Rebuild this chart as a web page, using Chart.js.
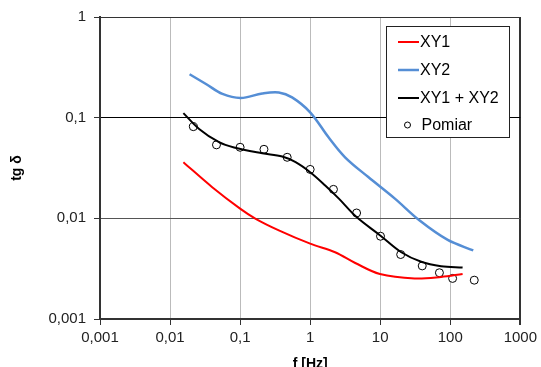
<!DOCTYPE html>
<html>
<head>
<meta charset="utf-8">
<script src="https://cdn.jsdelivr.net/npm/chart.js@4.4.0/dist/chart.umd.min.js"></script>
<style>
  html, body { margin: 0; padding: 0; background: #fff; }
  #wrap { width: 541px; height: 367px; }
</style>
</head>
<body>
<div id="wrap"><canvas id="c" width="541" height="367"></canvas></div>
<script>
// decade ticks
const xTicks = [0.001, 0.01, 0.1, 1, 10, 100, 1000]
const yTicks = [0.001, 0.01, 0.1, 1]

// XY1 (red)
const xy1X = [0.0155, 0.04, 0.1, 0.167, 0.357, 1.0, 2.27, 4.4, 9.9, 31, 74, 150]
const xy1Y = [0.0361, 0.0204, 0.0125, 0.0099, 0.0076, 0.0056, 0.0046, 0.0036, 0.0028, 0.00253, 0.00262, 0.0028]

// XY2 (blue)
const xy2X = [0.019, 0.033, 0.056, 0.102, 0.207, 0.357, 0.552, 1.0, 1.83, 3.15, 6.76, 16.2, 36.6, 92, 213]
const xy2Y = [0.27, 0.215, 0.172, 0.157, 0.174, 0.178, 0.159, 0.113, 0.0638, 0.0404, 0.0257, 0.0157, 0.0095, 0.0061, 0.0048]

// XY1 + XY2 (black)
const sumX = [0.0155, 0.026, 0.05, 0.082, 0.207, 0.4, 0.62, 1.0, 1.64, 2.57, 4.6, 9.9, 20, 38.5, 74, 150]
const sumY = [0.111, 0.0773, 0.057, 0.0505, 0.0443, 0.0411, 0.0361, 0.0287, 0.0212, 0.0157, 0.0103, 0.0068, 0.0046, 0.0037, 0.00335, 0.00325]

// Pomiar (measurement points)
const pomX = [0.0215, 0.046, 0.1, 0.219, 0.47, 1.0, 2.15, 4.6, 10.1, 19.6, 39.8, 70, 108, 220]
const pomY = [0.0814, 0.0537, 0.0508, 0.0485, 0.0404, 0.0306, 0.0194, 0.0113, 0.00664, 0.00437, 0.00337, 0.00288, 0.00253, 0.00243]

const pts = (xs, ys) => xs.map((x, i) => ({ x: x, y: ys[i] }))
const fmt = (v) => String(v).replace('.', ',')
const FONT = "Arial, 'Liberation Sans', sans-serif"

const line = (label, xs, ys, color, w) => ({
  label: label,
  data: pts(xs, ys),
  borderColor: color,
  backgroundColor: color,
  borderWidth: w,
  showLine: true,
  pointRadius: 0,
  tension: 0.35,
  fill: false
})

// legend drawn inside the plot, as in the original
const boxLegend = {
  id: 'boxLegend',
  afterDatasetsDraw(chart) {
    const ctx = chart.ctx
    const x0 = 386.5, y0 = 26.5, w = 123, h = 111
    ctx.save()
    ctx.fillStyle = '#fff'
    ctx.fillRect(x0, y0, w, h)
    ctx.strokeStyle = '#222'
    ctx.lineWidth = 1
    ctx.strokeRect(x0, y0, w, h)
    ctx.font = '16px ' + FONT
    ctx.textBaseline = 'middle'
    ctx.fillStyle = '#000'
    const rows = [42, 70, 98, 125]
    chart.data.datasets.forEach((ds, i) => {
      const y = rows[i]
      if (ds.showLine) {
        ctx.strokeStyle = ds.borderColor
        ctx.lineWidth = ds.borderWidth
        ctx.beginPath()
        ctx.moveTo(398, y)
        ctx.lineTo(419, y)
        ctx.stroke()
      } else {
        ctx.strokeStyle = '#000'
        ctx.lineWidth = 1
        ctx.beginPath()
        ctx.arc(407.5, y, 3, 0, Math.PI * 2)
        ctx.stroke()
      }
      ctx.fillText(ds.label, ds.showLine ? 420 : 421.5, y + 1)
    })
    ctx.restore()
  }
}

new Chart(document.getElementById('c'), {
  type: 'scatter',
  data: {
    datasets: [
      line('XY1', xy1X, xy1Y, '#ff0000', 2),
      line('XY2', xy2X, xy2Y, '#558ed5', 2.5),
      line('XY1 + XY2', sumX, sumY, '#000000', 2),
      {
        label: 'Pomiar',
        data: pts(pomX, pomY),
        showLine: false,
        pointRadius: 4,
        pointBackgroundColor: '#fff',
        pointBorderColor: '#000',
        pointBorderWidth: 1
      }
    ]
  },
  options: {
    responsive: false,
    animation: false,
    layout: { padding: { left: 0, right: 18, top: 16, bottom: 0 } },
    plugins: { legend: { display: false }, tooltip: { enabled: false } },
    scales: {
      x: {
        type: 'logarithmic',
        min: 0.001,
        max: 1000,
        afterBuildTicks: (s) => { s.ticks = xTicks.map(v => ({ value: v })) },
        afterFit: (s) => { s.height = 48 },
        ticks: {
          callback: (v) => fmt(v),
          font: { family: FONT, size: 15 },
          color: '#222',
          padding: 4,
          maxRotation: 0,
          autoSkip: false
        },
        grid: {
          color: (c) => c.tick && c.tick.value === 1000 ? '#333' : '#bbb',
          lineWidth: (c) => c.tick && c.tick.value === 1000 ? 2 : 1,
          tickColor: '#333',
          tickLength: 6
        },
        border: { display: true, color: '#333', width: 2 },
        title: {
          display: true,
          text: 'f [Hz]',
          color: '#000',
          font: { family: FONT, size: 14, weight: 'bold', lineHeight: 1 },
          padding: { top: 0, bottom: -4 }
        }
      },
      y: {
        type: 'logarithmic',
        min: 0.001,
        max: 1,
        afterBuildTicks: (s) => { s.ticks = yTicks.map(v => ({ value: v })) },
        afterFit: (s) => { s.width = 100 },
        ticks: {
          callback: (v) => fmt(v),
          font: { family: FONT, size: 15 },
          color: '#222',
          padding: 8,
          autoSkip: false
        },
        grid: {
          color: (c) => {
            if (!c.tick) return '#bbb'
            if (c.tick.value === 0.1) return '#000'
            if (c.tick.value === 0.01) return '#555'
            return '#333'
          },
          tickColor: '#333',
          tickLength: 6
        },
        border: { display: true, color: '#333', width: 2 },
        title: {
          display: true,
          text: 'tg δ',
          color: '#000',
          font: { family: FONT, size: 14, weight: 'bold', lineHeight: 1 },
          padding: { top: 10, bottom: 0 }
        }
      }
    }
  },
  plugins: [boxLegend]
})
</script>
</body>
</html>
